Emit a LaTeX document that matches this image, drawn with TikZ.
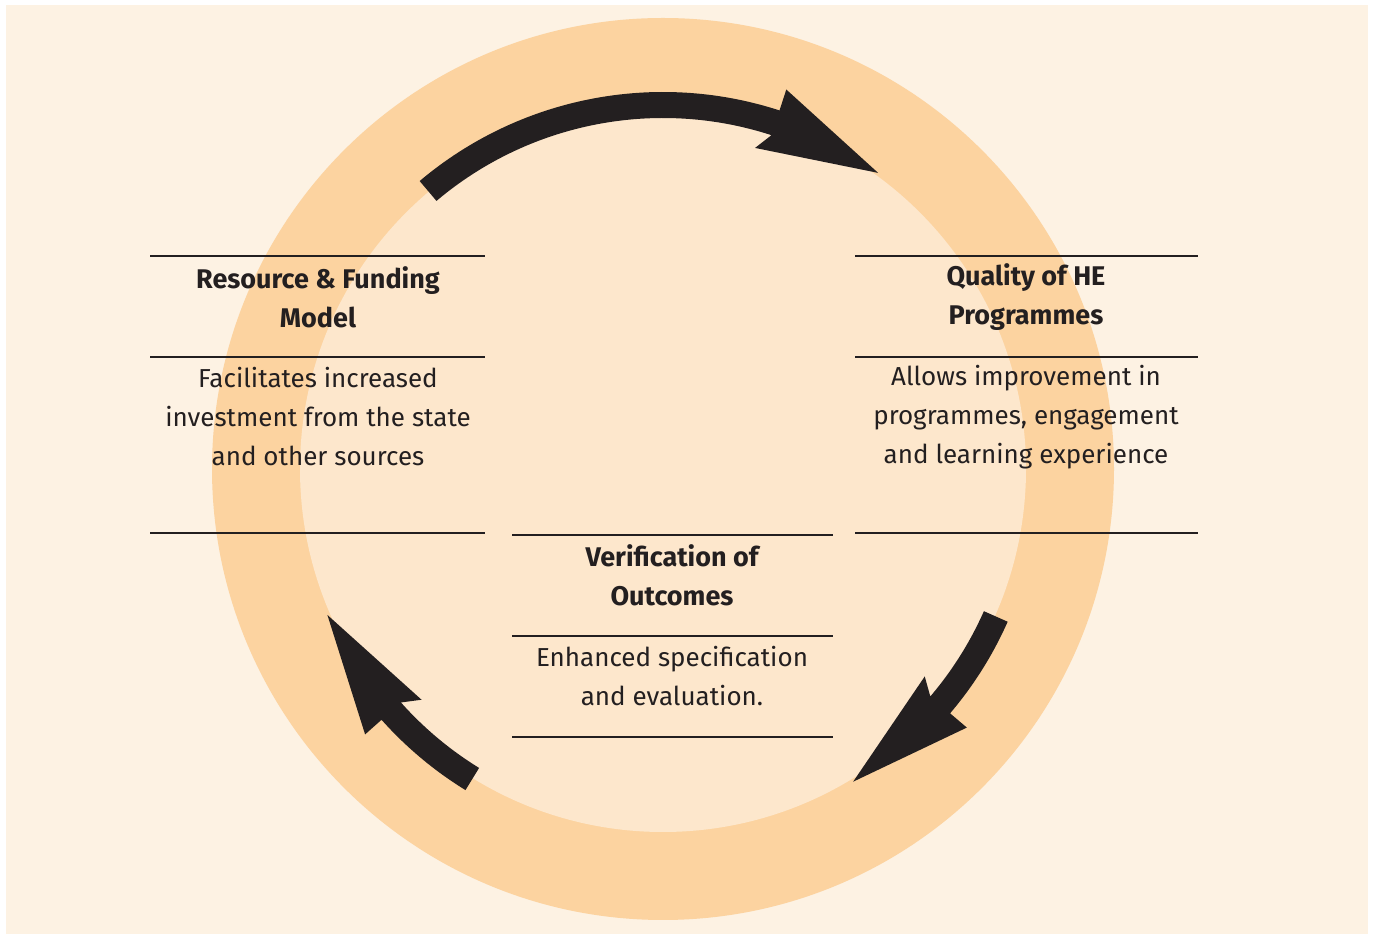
\documentclass[tikz,border=0pt]{standalone}
\usepackage{fontspec}
\setsansfont{Fira Sans}
\usetikzlibrary{positioning}

\definecolor{creambg}{HTML}{FDF2E3}
\definecolor{ringorange}{HTML}{FCD3A0}
\definecolor{innerfill}{HTML}{FDE7CC}
\definecolor{inkblack}{HTML}{231F20}

% tail angle, head base angle, tip angle (all arrows run clockwise)
\newcommand{\cyclearrow}[3]{%
  \fill[inkblack] ([shift={(#1:377)}]ctr) arc[start angle=#1,end angle=#2,radius=377]
    -- ([shift={(#2:399)}]ctr) -- ([shift={(#3:366)}]ctr) -- ([shift={(#2+2:334)}]ctr)
    -- ([shift={(#2:351)}]ctr) arc[start angle=#2,end angle=#1,radius=351] -- cycle;}

\begin{document}
\begin{tikzpicture}[x=1pt,y=1pt,font=\sffamily,
  titletext/.style={align=center,inkblack,font=\sffamily\bfseries\fontsize{27}{39}\selectfont},
  bodytext/.style={align=center,inkblack,font=\sffamily\fontsize{26}{39}\selectfont},
  rule/.style={inkblack,line width=2.2pt}]
	\useasboundingbox (0,0) rectangle (1374,934);
	%background
	\fill[creambg] (6,0) rectangle (1368,929);
	\coordinate (ctr) at (663,465);
	\fill[ringorange] (ctr) circle[radius=451];
	\fill[innerfill] (ctr) circle[radius=363];

	%arrows
	\cyclearrow{130.2}{72}{54} %top
	\cyclearrow{-23.9}{-40.4}{-58.7} %right
	\cyclearrow{238.4}{221.7}{203.5} %left

	%resource box
	\draw[rule] (150,678) -- (485,678);
	\draw[rule] (150,577) -- (485,577);
	\draw[rule] (150,401) -- (485,401);
	\node[titletext] (resTitle) at (318,637) {Resource \& Funding\\Model};
	\node[bodytext] (resBody) at (318,517) {Facilitates increased\\investment from the state\\and other sources};

	%quality box
	\draw[rule] (855,678) -- (1198,678);
	\draw[rule] (855,577) -- (1198,577);
	\draw[rule] (855,401) -- (1198,401);
	\node[titletext] (qualTitle) at (1026,637) {Quality of HE\\Programmes};
	\node[bodytext] (qualBody) at (1026,517) {Allows improvement in\\programmes, engagement\\and learning experience};

	%verification box
	\draw[rule] (512,399) -- (833,399);
	\draw[rule] (512,298) -- (833,298);
	\draw[rule] (512,197) -- (833,197);
	\node[titletext] (verTitle) at (672,359) {Verification of\\Outcomes};
	\node[bodytext] (verBody) at (672,258) {Enhanced specification\\and evaluation.};
\end{tikzpicture}
\end{document}
